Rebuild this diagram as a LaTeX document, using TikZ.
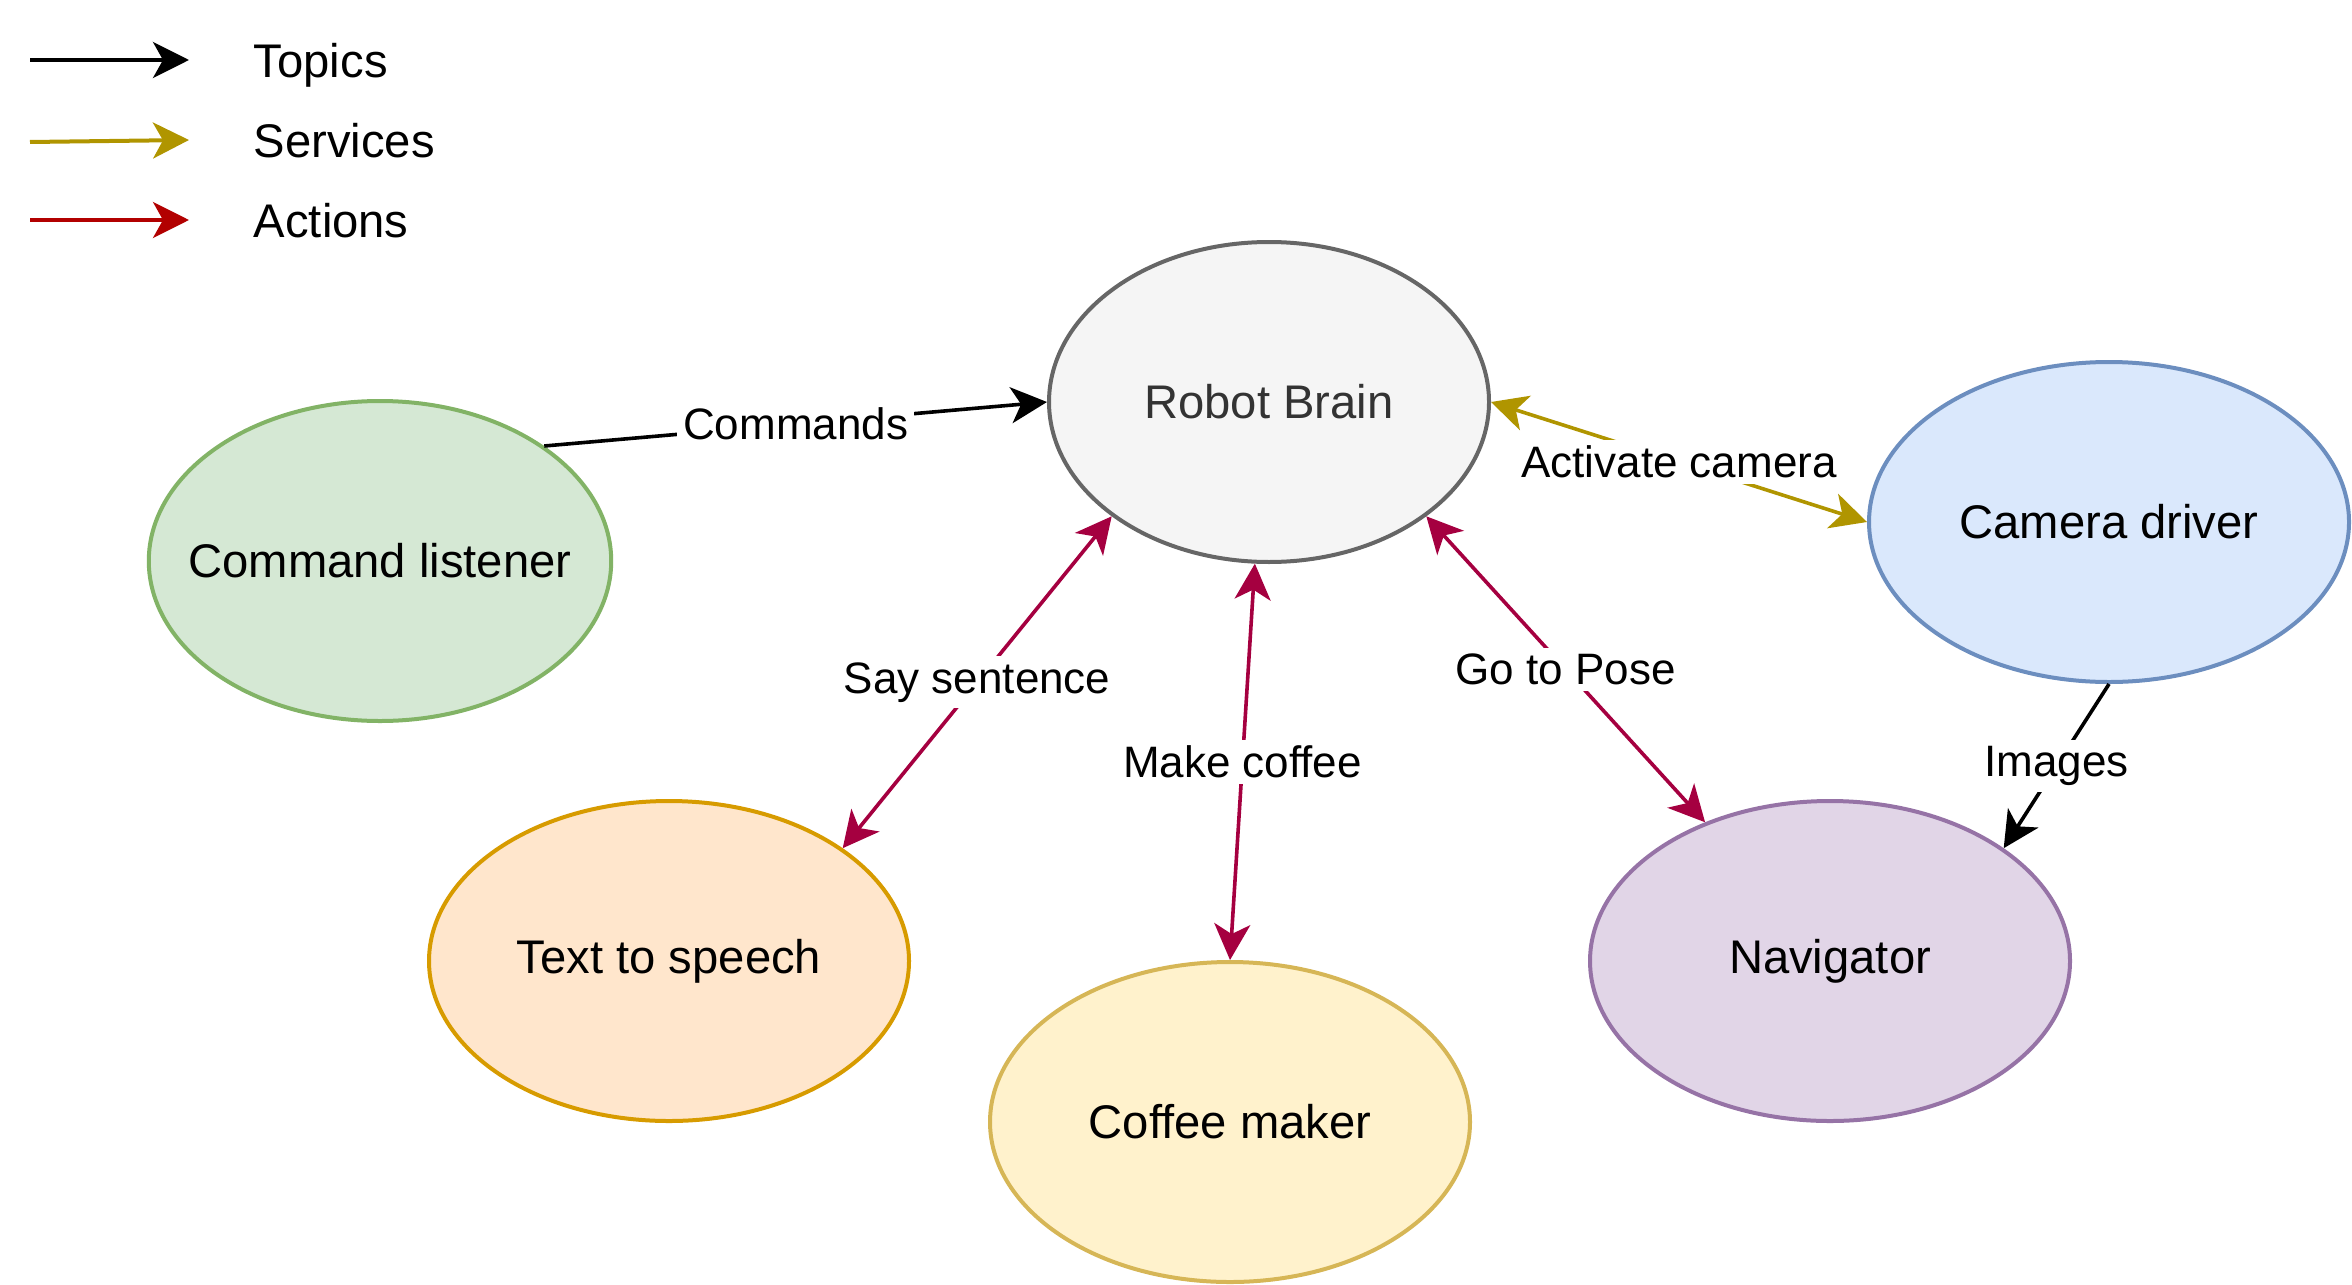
\documentclass[tikz,border=0pt]{standalone}
\usepackage{fontspec}
\setmainfont{Liberation Sans}
\usetikzlibrary{arrows.meta,positioning,shapes.geometric}
\definecolor{servcol}{HTML}{B09500}
\definecolor{actcol}{HTML}{A50040}
\definecolor{legactcol}{HTML}{B20000}

\begin{document}
\begin{tikzpicture}[
  x=0.25pt, y=-0.25pt,
  state/.style={ellipse, draw, line width=1pt, minimum height=80pt, inner sep=0pt, font=\fontsize{11.8}{14}\selectfont},
  legtext/.style={inner sep=0pt, text depth=0pt, font=\fontsize{11.8}{14}\selectfont},
  lbl/.style={fill=white, inner sep=1.5pt, font=\fontsize{11}{13}\selectfont},
  arr/.style={-{Stealth[length=9pt, width=9pt, inset=2.5pt]}, line width=0.9pt},
  both/.style={{Stealth[length=9pt, width=9pt, inset=2.5pt]}-{Stealth[length=9pt, width=9pt, inset=2.5pt]}, line width=0.9pt}]
\useasboundingbox (0,0) rectangle (2352,1284);
% legend
\coordinate (t1) at (30,60);  \coordinate (t2) at (189,60);
\coordinate (s1) at (30,142); \coordinate (s2) at (189,140);
\coordinate (a1) at (30,220); \coordinate (a2) at (189,220);
\draw[arr, line width=1pt] (t1) -- (t2);
\draw[arr, line width=1pt, servcol] (s1) -- (s2);
\draw[arr, line width=1pt, legactcol] (a1) -- (a2);
\node[legtext, right=16pt of t2] (topics) {Topics};
\node[legtext, right=16pt of s2] (services) {Services};
\node[legtext, right=16pt of a2] (actions) {Actions};
% nodes
\node[state, minimum width=110pt, draw=black!60, fill=black!4, text=black!80] (brain) at (1269,402) {Robot Brain};
\node[state, minimum width=115.5pt, inner xsep=-7pt, fill={rgb,255:red,213;green,232;blue,212}, draw={rgb,255:red,130;green,179;blue,102}] (listener) at (380,561) {Command listener};
\node[state, minimum width=120pt, fill={rgb,255:red,218;green,232;blue,252}, draw={rgb,255:red,108;green,142;blue,191}] (camera) at (2109,522) {Camera driver};
\node[state, minimum width=120pt, fill={rgb,255:red,255;green,230;blue,204}, draw={rgb,255:red,215;green,155;blue,0}] (tts) at (669,961) {Text to speech};
\node[state, minimum width=120pt, fill={rgb,255:red,255;green,242;blue,204}, draw={rgb,255:red,214;green,182;blue,86}] (coffee) at (1230,1122) {Coffee maker};
\node[state, minimum width=120pt, fill={rgb,255:red,225;green,213;blue,231}, draw={rgb,255:red,150;green,115;blue,166}] (nav) at (1830,961) {Navigator};
% connectors
\draw[arr] (listener.35.3) -- node[lbl] {Commands} (brain.west);
\draw[both, servcol] (brain.east) -- node[lbl, text=black] {Activate camera} (camera.west);
\draw[arr] (camera.south) -- node[lbl] {Images} (nav.33.8);
\draw[both, actcol] (brain.216.2) -- node[lbl, text=black] {Say sentence} (tts.33.7);
\draw[both, actcol] (brain.265.8) -- node[lbl, text=black] {Make coffee} (coffee.north);
\draw[both, actcol] (brain.324.5) -- node[lbl, text=black] {Go to Pose} (nav.132.2);
\end{tikzpicture}
\end{document}
